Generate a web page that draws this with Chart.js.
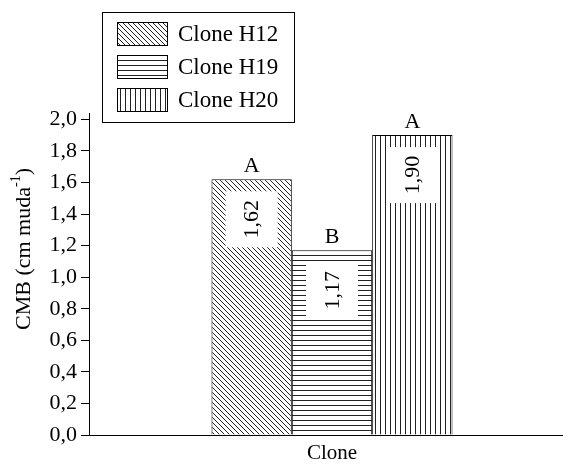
<!DOCTYPE html>
<html>
<head>
<meta charset="utf-8">
<script src="https://cdn.jsdelivr.net/npm/chart.js@4.4.1/dist/chart.umd.min.js"></script>
<style>
    html, body { margin: 0; padding: 0; background: #fff; overflow: hidden; }
    #wrap { width: 575px; height: 471px; }
</style>
</head>
<body>
<div id="wrap"><canvas id="cmbChart" width="575" height="471"></canvas></div>
<script>
const categories = ['Clone'];
const cloneNames = ['Clone H12', 'Clone H19', 'Clone H20'];
const cmbValues = [1.62, 1.17, 1.90];
const groupLetters = ['A', 'B', 'A'];
const hatchKinds = ['diagonal', 'horizontal', 'vertical'];
const yTickValues = [0, 0.2, 0.4, 0.6, 0.8, 1.0, 1.2, 1.4, 1.6, 1.8, 2.0];

const serif = 'Liberation Serif';

function fmt(v) {
    return v.toFixed(1).replace('.', ',');
}

function makePattern(kind) {
    const s = 5;
    const c = document.createElement('canvas');
    c.width = s;
    c.height = s;
    const g = c.getContext('2d');
    g.fillStyle = '#fff';
    g.fillRect(0, 0, s, s);
    g.fillStyle = '#222';
    g.strokeStyle = '#222';
    g.lineWidth = 1;
    if (kind === 'horizontal') {
        g.fillRect(0, 0, s, 1);
    } else if (kind === 'vertical') {
        g.fillRect(0, 0, 1, s);
    } else {
        g.beginPath();
        g.moveTo(-1, -1); g.lineTo(s + 1, s + 1);
        g.moveTo(-1, s - 1); g.lineTo(1, s + 1);
        g.moveTo(s - 1, -1); g.lineTo(s + 1, 1);
        g.stroke();
    }
    return g.createPattern(c, 'repeat');
}

const patterns = hatchKinds.map(makePattern);

// white box with the rotated value, and the letter above each bar
const barLabels = {
    id: 'barLabels',
    afterDatasetsDraw(chart) {
        const ctx = chart.ctx;
        ctx.save();
        chart.data.datasets.forEach((ds, i) => {
            const bar = chart.getDatasetMeta(i).data[0];
            const boxW = 52, boxH = 56, gap = 12;
            ctx.fillStyle = '#fff';
            ctx.fillRect(bar.x - boxW / 2, bar.y + gap, boxW, boxH);

            ctx.fillStyle = '#000';
            ctx.font = '22px "' + serif + '"';
            ctx.save();
            ctx.translate(bar.x, bar.y + gap + boxH / 2);
            ctx.rotate(-Math.PI / 2);
            ctx.textAlign = 'center';
            ctx.textBaseline = 'middle';
            ctx.fillText(cmbValues[i].toFixed(2).replace('.', ','), 0, 1);
            ctx.restore();

            ctx.textAlign = 'center';
            ctx.textBaseline = 'alphabetic';
            ctx.fillText(groupLetters[i], bar.x, bar.y - 7);
        });
        ctx.restore();
    }
};

// boxed legend at the top left, and the y title with its superscript
const decorations = {
    id: 'decorations',
    afterDraw(chart) {
        const ctx = chart.ctx;
        ctx.save();
        ctx.strokeStyle = '#000';
        ctx.lineWidth = 1;
        ctx.strokeRect(102.5, 12.5, 192, 110);

        chart.data.datasets.forEach((ds, i) => {
            const top = 22 + i * 33;
            ctx.fillStyle = ds.backgroundColor;
            ctx.fillRect(117, top, 50, 23);
            ctx.strokeRect(117.5, top + 0.5, 50, 23);
            ctx.fillStyle = '#000';
            ctx.font = '23px "' + serif + '"';
            ctx.textAlign = 'left';
            ctx.textBaseline = 'middle';
            ctx.fillText(ds.label, 178, top + 12.5);
        });

        const main = '22px "' + serif + '"';
        const sup = '14px "' + serif + '"';
        const parts = [['CMB (cm muda', main, 0], ['-1', sup, -8], [')', main, 0]];
        let total = 0;
        parts.forEach(p => { ctx.font = p[1]; total += ctx.measureText(p[0]).width; });
        ctx.translate(24, 249);
        ctx.rotate(-Math.PI / 2);
        ctx.textAlign = 'left';
        ctx.textBaseline = 'middle';
        let x = -total / 2;
        parts.forEach(p => {
            ctx.font = p[1];
            ctx.fillText(p[0], x, p[2]);
            x += ctx.measureText(p[0]).width;
        });
        ctx.restore();
    }
};

new Chart(document.getElementById('cmbChart').getContext('2d'), {
    type: 'bar',
    data: {
        labels: categories,
        datasets: cloneNames.map((name, i) => ({
            label: name,
            data: [cmbValues[i]],
            backgroundColor: patterns[i],
            borderColor: '#000',
            borderWidth: 1,
            categoryPercentage: 0.496,
            barPercentage: 1
        }))
    },
    options: {
        responsive: false,
        animation: false,
        layout: { padding: { top: 113, right: 0, bottom: 0, left: 0 } },
        plugins: {
            legend: { display: false },
            tooltip: { enabled: false }
        },
        scales: {
            x: {
                ticks: { display: false },
                grid: { display: false },
                border: { display: true, color: '#000', width: 1 },
                title: {
                    display: true,
                    text: 'Clone',
                    color: '#000',
                    font: { family: serif, size: 21 },
                    padding: { top: 0, bottom: 5 }
                },
                afterFit: s => { s.height = 36; }
            },
            y: {
                min: 0,
                max: 2.04,
                afterBuildTicks: s => { s.ticks = yTickValues.map(v => ({ value: v })); },
                ticks: {
                    color: '#000',
                    padding: 4,
                    font: { family: serif, size: 22 },
                    callback: v => fmt(v)
                },
                grid: {
                    drawOnChartArea: false,
                    drawTicks: true,
                    tickLength: 8,
                    color: '#000'
                },
                border: { display: true, color: '#000', width: 1 },
                afterFit: s => { s.width = 89; }
            }
        }
    },
    plugins: [barLabels, decorations]
});
</script>
</body>
</html>
